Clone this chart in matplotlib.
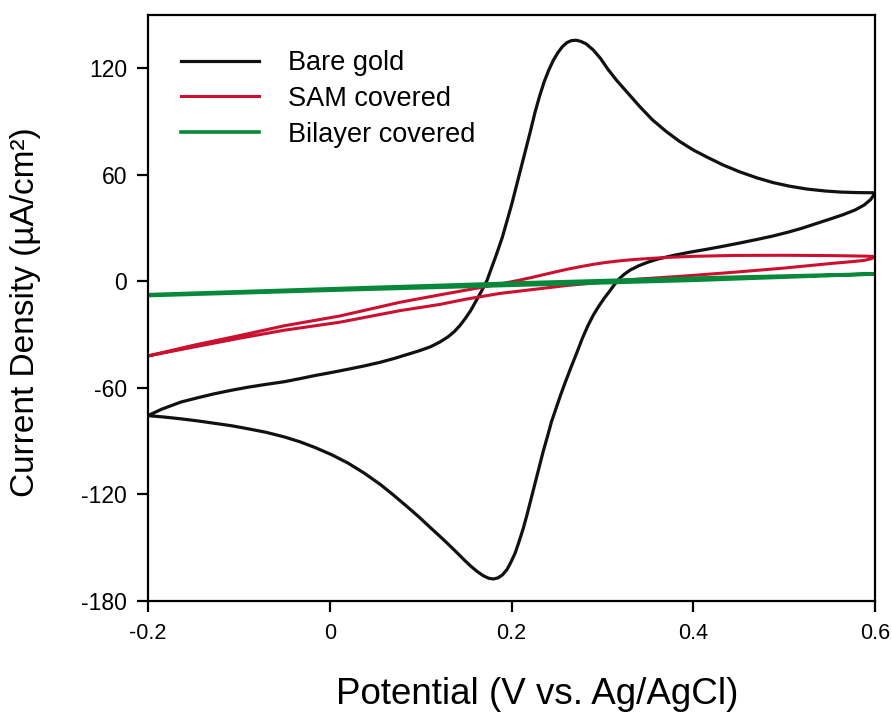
import numpy as np
import matplotlib
matplotlib.use("Agg")
import matplotlib.pyplot as plt

plt.rcParams['font.family'] = ['Liberation Sans', 'DejaVu Sans']
plt.rcParams['axes.unicode_minus'] = False

# Bare gold CV - forward (anodic) branch
bare_fwd_x = [-0.200, -0.185, -0.164, -0.145, -0.127, -0.108, -0.090, -0.070, -0.050, -0.033,
              -0.016, 0.002, 0.020, 0.038, 0.056, 0.071, 0.085, 0.099, 0.111, 0.121,
              0.130, 0.137, 0.143, 0.149, 0.155, 0.161, 0.167, 0.173, 0.178, 0.184,
              0.190, 0.195, 0.200, 0.205, 0.210, 0.215, 0.221, 0.226, 0.231, 0.236,
              0.241, 0.246, 0.251, 0.256, 0.261, 0.266, 0.271, 0.276, 0.282, 0.290,
              0.298, 0.306, 0.316, 0.328, 0.341, 0.355, 0.370, 0.385, 0.400, 0.415,
              0.433, 0.451, 0.470, 0.488, 0.506, 0.525, 0.545, 0.562, 0.580, 0.600]
bare_fwd_y = [-75.6, -72.0, -68.0, -65.5, -63.3, -61.3, -59.6, -58.0, -56.5, -54.8,
              -53.0, -51.3, -49.5, -47.6, -45.5, -43.4, -41.2, -39.0, -36.8, -34.2,
              -31.3, -28.3, -25.0, -21.0, -16.5, -11.0, -5.5, 0.5, 7.5, 16.0,
              25.0, 34.0, 43.0, 53.0, 63.0, 73.0, 85.0, 95.5, 104.5, 112.5,
              119.0, 124.5, 128.8, 132.2, 134.5, 135.6, 135.8, 135.2, 133.8, 130.3,
              125.5, 119.5, 113.0, 106.0, 98.5, 91.0, 84.5, 78.8, 74.0, 70.0,
              65.5, 61.7, 58.3, 55.6, 53.6, 52.0, 50.9, 50.3, 50.0, 49.9]
# Bare gold CV - reverse (cathodic) branch
bare_rev_x = [0.600, 0.595, 0.588, 0.578, 0.565, 0.550, 0.535, 0.520, 0.505, 0.488,
              0.470, 0.451, 0.433, 0.415, 0.396, 0.378, 0.362, 0.350, 0.340, 0.331,
              0.324, 0.318, 0.313, 0.308, 0.302, 0.296, 0.290, 0.284, 0.278, 0.272,
              0.265, 0.259, 0.254, 0.249, 0.244, 0.240, 0.235, 0.231, 0.226, 0.221,
              0.217, 0.213, 0.208, 0.204, 0.199, 0.195, 0.190, 0.185, 0.180, 0.175,
              0.169, 0.162, 0.155, 0.149, 0.140, 0.130, 0.120, 0.111, 0.098, 0.085,
              0.070, 0.056, 0.038, 0.020, 0.002, -0.016, -0.033, -0.050, -0.070, -0.090,
              -0.108, -0.127, -0.145, -0.164, -0.182, -0.200]
bare_rev_y = [49.5, 46.0, 43.0, 40.2, 37.6, 35.0, 32.5, 30.0, 27.8, 25.6,
              23.6, 21.6, 19.8, 18.1, 16.4, 14.6, 12.7, 10.8, 8.8, 6.5,
              4.0, 1.2, -2.0, -5.5, -9.5, -14.0, -19.0, -25.0, -32.0, -40.0,
              -49.0, -57.0, -64.0, -71.5, -79.0, -86.5, -95.5, -103.5, -113.5, -123.5,
              -131.5, -139.0, -147.0, -153.0, -158.5, -162.3, -165.3, -167.0, -167.6, -167.2,
              -165.8, -163.3, -160.3, -157.4, -152.8, -147.8, -143.0, -138.8, -132.6, -126.8,
              -120.3, -114.5, -108.0, -102.3, -97.6, -93.6, -90.3, -87.6, -85.0, -83.0,
              -81.3, -79.9, -78.6, -77.4, -76.4, -75.6]

# SAM covered
sam_fwd_x = [-0.200, -0.150, -0.099, -0.050, 0.011, 0.077, 0.121, 0.160, 0.187, 0.205,
             0.224, 0.243, 0.261, 0.276, 0.290, 0.303, 0.316, 0.328, 0.340, 0.355,
             0.371, 0.400, 0.444, 0.500, 0.554, 0.591, 0.600]
sam_fwd_y = [-42.0, -36.0, -30.5, -25.0, -19.5, -11.8, -7.6, -4.0, -1.5, 0.3,
             2.4, 4.7, 6.8, 8.3, 9.6, 10.6, 11.4, 12.0, 12.5, 13.0,
             13.5, 14.1, 14.6, 14.7, 14.5, 14.2, 14.0]
sam_rev_x = [0.600, 0.596, 0.588, 0.570, 0.554, 0.500, 0.444, 0.390, 0.334, 0.261,
             0.187, 0.150, 0.121, 0.077, 0.011, -0.050, -0.099, -0.150, -0.200]
sam_rev_y = [14.0, 12.8, 11.8, 10.9, 10.2, 7.5, 5.1, 3.0, 1.1, -2.3,
             -6.8, -10.0, -13.0, -16.5, -23.0, -27.5, -32.0, -37.0, -42.0]

# Bilayer covered
bil_fwd_x = [-0.2, 0.0, 0.2, 0.4, 0.6]
bil_fwd_y = [-7.5, -4.2, -1.0, 1.8, 4.2]
bil_rev_x = [0.6, 0.4, 0.2, 0.0, -0.2]
bil_rev_y = [4.2, 0.6, -2.2, -5.0, -8.0]

fig = plt.figure(figsize=(8.92, 7.12), dpi=100)
ax = fig.add_axes([0.1659, 0.1559, 0.8151, 0.823])

black = '#111111'
red = '#cc1030'
green = '#08883a'

ax.plot(bare_fwd_x + bare_rev_x, bare_fwd_y + bare_rev_y, color=black, lw=2.3, label='Bare gold')
ax.plot(sam_fwd_x + sam_rev_x, sam_fwd_y + sam_rev_y, color=red, lw=2.2, label='SAM covered')
ax.plot(bil_fwd_x + bil_rev_x, bil_fwd_y + bil_rev_y, color=green, lw=2.6, label='Bilayer covered')

ax.set_xlim(-0.2, 0.6)
ax.set_ylim(-180, 150)
ax.set_xticks([-0.2, 0, 0.2, 0.4, 0.6])
ax.set_xticklabels(['-0.2', '0', '0.2', '0.4', '0.6'])
ax.set_yticks([-180, -120, -60, 0, 60, 120])

for s in ax.spines.values():
    s.set_linewidth(1.6)
ax.tick_params(axis='y', direction='out', length=8, width=1.6, pad=7, labelsize=16.5)
ax.tick_params(axis='x', direction='out', length=8, width=1.6, pad=8, labelsize=15.5)

ax.set_xlabel('Potential (V vs. Ag/AgCl)', fontsize=26.5)
ax.xaxis.set_label_coords(0.535, -0.16)
ax.xaxis.label.set_va('center')
ax.set_ylabel('Current Density (µA/cm²)', fontsize=24)
ax.yaxis.set_label_coords(-0.168, 0.493)
ax.yaxis.label.set_va('center')

ax.legend(loc='upper left', bbox_to_anchor=(0.045, 0.94), frameon=False, fontsize=19.5,
          handlelength=2.9, handletextpad=1.05, labelspacing=0.36, borderpad=0, borderaxespad=0)

fig.savefig('out.png', dpi=100)
